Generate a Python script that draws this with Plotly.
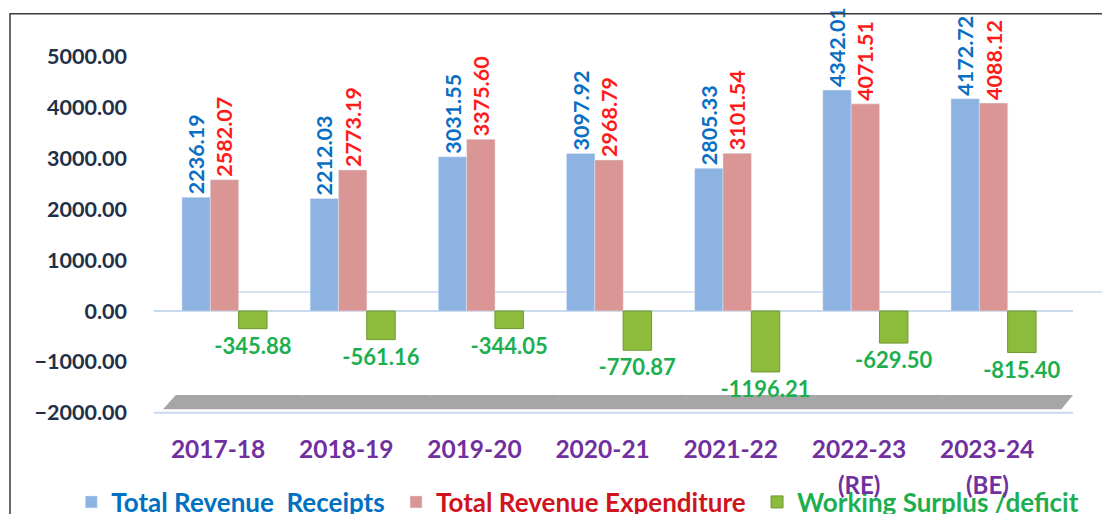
import plotly.graph_objects as go

categories = ["2017-18", "2018-19", "2019-20", "2020-21", "2021-22", "2022-23", "2023-24"]
category_notes = ["", "", "", "", "", "(RE)", "(BE)"]
receipts = [2236.19, 2212.03, 3031.55, 3097.92, 2805.33, 4342.01, 4172.72]
expenditure = [2582.07, 2773.19, 3375.60, 2968.79, 3101.54, 4071.51, 4088.12]
surplus = [-345.88, -561.16, -344.05, -770.87, -1196.21, -629.50, -815.40]
y_ticks = [-2000, -1000, 0, 1000, 2000, 3000, 4000, 5000]

FONT = "Lato"
BAR_W = 0.222

fig = go.Figure()

def fmt(v):
    return f"{v:.2f}"

fig.add_trace(go.Bar(
    x=categories, y=receipts, name="<span style='color:#0070C0'>Total Revenue  Receipts</span>&#160;",
    marker=dict(color="#8DB3E2"), width=BAR_W, offset=-0.282,
    text=[fmt(v) for v in receipts], textposition="outside", textangle=-90,
    constraintext="none", cliponaxis=False,
    textfont=dict(family=FONT, size=21.5, color="#0A6FC2", weight="bold"),
))
fig.add_trace(go.Bar(
    x=categories, y=expenditure, name="<span style='color:#D0141E'>Total Revenue Expenditure</span>&#160;",
    marker=dict(color="#D99694"), width=BAR_W, offset=-0.061,
    text=[fmt(v) for v in expenditure], textposition="outside", textangle=-90,
    constraintext="none", cliponaxis=False,
    textfont=dict(family=FONT, size=21.5, color="#FF1A1A", weight="bold"),
))
fig.add_trace(go.Bar(
    x=categories, y=surplus, name="<span style='color:#1DAF4F'>Working Surplus /deficit</span>",
    marker=dict(color="#8DBB3C", line=dict(color="#6E9A2E", width=1)), width=BAR_W, offset=0.160,
    text=[fmt(v) for v in surplus], textposition="outside", textangle=0,
    constraintext="none", cliponaxis=False,
    textfont=dict(family=FONT, size=22, color="#1DAF4F", weight="bold"),
))

shapes = []
# grey slanted floor under each category
for i in range(len(categories)):
    shapes.append(dict(
        type="path", xref="x", yref="y", layer="below",
        path=(f"M {i-0.43},-1930 L {i+0.58},-1930 L {i+0.67},-1650 L {i-0.33},-1650 Z"),
        fillcolor="#A6A6A6", line=dict(width=0),
    ))
# light gridlines
shapes.append(dict(type="line", xref="paper", yref="y", x0=0, x1=1.0, y0=-2000, y1=-2000,
                   line=dict(color="#C9D9EE", width=2), layer="below"))
shapes.append(dict(type="line", xref="paper", yref="y", x0=0.03, x1=1.04, y0=374, y1=374,
                   line=dict(color="#D6E3F3", width=2), layer="below"))
# outer frame
shapes.append(dict(type="rect", xref="paper", yref="paper", x0=-0.1567, x1=1.08, y0=-0.4, y1=1.018,
                   line=dict(color="#3A3A3A", width=1.5), fillcolor="rgba(0,0,0,0)"))

annotations = []
for c, note in zip(categories, category_notes):
    if note:
        annotations.append(dict(x=c, xref="x", yref="paper", y=-0.152, text=note, showarrow=False,
                                font=dict(family=FONT, size=24, color="#7030A0", weight="bold"),
                                yanchor="middle"))

fig.update_layout(
    width=1110, height=514,
    margin=dict(l=146, r=45, t=13, b=99, autoexpand=False),
    paper_bgcolor="white", plot_bgcolor="white",
    barmode="group",
    showlegend=True,
    legend=dict(orientation="h", x=-0.090, xanchor="left", y=-0.1965, yanchor="middle",
                font=dict(family=FONT, size=26, weight="bold"), traceorder="normal",
                itemwidth=30, bgcolor="rgba(0,0,0,0)"),
    shapes=shapes,
    annotations=annotations,
    font=dict(family=FONT),
)
fig.update_xaxes(
    showgrid=False, showline=False, zeroline=False,
    tickfont=dict(family=FONT, size=24.5, color="#7030A0", weight="bold"),
    ticks="", ticklabelstandoff=9,
)
fig.update_yaxes(
    range=[-2200, 5700], tickvals=y_ticks, tickformat=".2f",
    showgrid=False, zeroline=True, zerolinecolor="#C9D9EE", zerolinewidth=2,
    showline=False, ticks="",
    tickfont=dict(family=FONT, size=21.5, color="#1F3048", weight="bold"),
    ticklabelstandoff=26,
)

fig.write_html("out.html")
